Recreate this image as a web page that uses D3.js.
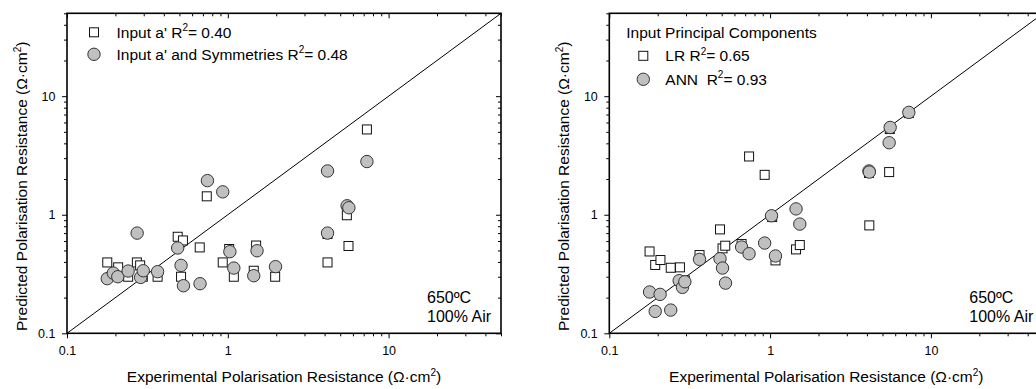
<!DOCTYPE html>
<html lang="en">
<head>
  <meta charset="utf-8">
  <title>Polarisation Resistance</title>
  <script type="text/javascript" src="https://cdn.jsdelivr.net/npm/d3@7/dist/d3.min.js"></script>
  <style>
    body { margin: 0; background: #fff; }
    svg { display: block; font-family: "Liberation Sans", Arial, sans-serif; }
    text { white-space: pre; }
  </style>
</head>
<body>
<script>
  // left panel : input a'
  const expA  = [0.178, 0.208, 0.24, 0.272, 0.285, 0.296, 0.366, 0.488, 0.526, 0.512, 0.669, 0.74, 0.93, 1.02, 1.09, 1.50, 1.45, 1.97, 4.17, 4.17, 5.5, 5.63, 7.33];
  const predA = [0.396, 0.36, 0.30, 0.396, 0.374, 0.30, 0.30, 0.652, 0.607, 0.30, 0.53, 1.43, 0.396, 0.514, 0.30, 0.55, 0.337, 0.30, 0.688, 0.396, 0.99, 0.545, 5.24];
  // left panel : input a' and symmetries
  const expAS  = [0.178, 0.194, 0.207, 0.24, 0.273, 0.287, 0.298, 0.366, 0.488, 0.512, 0.53, 0.672, 0.747, 0.93, 1.03, 1.09, 1.52, 1.45, 1.98, 4.17, 4.17, 5.52, 5.66, 7.33];
  const predAS = [0.289, 0.322, 0.30, 0.335, 0.70, 0.296, 0.337, 0.331, 0.524, 0.374, 0.252, 0.262, 1.94, 1.56, 0.488, 0.355, 0.497, 0.306, 0.365, 2.34, 0.70, 1.19, 1.145, 2.81];
  // right panel : principal components, LR
  const expLR  = [0.178, 0.193, 0.208, 0.241, 0.275, 0.295, 0.364, 0.488, 0.506, 0.526, 0.665, 0.74, 0.925, 1.03, 1.08, 1.45, 1.53, 4.12, 4.14, 5.55, 5.5, 7.29];
  const predLR = [0.49, 0.377, 0.415, 0.357, 0.36, 0.279, 0.457, 0.752, 0.52, 0.548, 0.566, 3.10, 2.17, 0.956, 0.412, 0.51, 0.555, 2.25, 0.813, 5.28, 2.29, 7.2];
  // right panel : principal components, ANN
  const expANN  = [0.178, 0.193, 0.207, 0.241, 0.272, 0.285, 0.295, 0.364, 0.488, 0.506, 0.528, 0.665, 0.74, 0.925, 1.02, 1.08, 1.45, 1.53, 4.12, 4.14, 5.5, 5.58, 7.29];
  const predANN = [0.223, 0.153, 0.213, 0.157, 0.278, 0.244, 0.272, 0.42, 0.426, 0.355, 0.265, 0.534, 0.469, 0.577, 0.98, 0.449, 1.12, 0.834, 2.34, 2.29, 4.05, 5.45, 7.3];

  const axisRange = [0.1, 50];
  const majorTicks = [0.1, 1, 10];
  const minorTicks = [0.2, 0.3, 0.4, 0.5, 0.6, 0.7, 0.8, 0.9, 2, 3, 4, 5, 6, 7, 8, 9, 20, 30, 40, 50];
  const tickLabels = ["0.1", "1", "10"];

  let w = 1036;
  let h = 389;
  let fs = 15.5;

  let svg = d3.select("body")
    .append("svg")
    .attr("width", w)
    .attr("height", h);

  function zip(xs, ys) {
    return xs.map(function(x, i) { return [x, ys[i]]; });
  }

  // text with a superscript 2 after "R"
  function r2Text(sel, before, after) {
    sel.append("tspan").text(before + "R");
    sel.append("tspan").attr("dy", -6.5).attr("font-size", 10).text("2");
    sel.append("tspan").attr("dy", 6.5).text(after);
  }

  function drawPanel(left, legendTitle, squares, circles, labels) {
    let pw = 434, ph = 320, top = 13.3;
    let g = svg.append("g").attr("transform", "translate(" + left + "," + top + ")");

    let xScale = d3.scaleLog().domain(axisRange).range([0, pw]);
    let yScale = d3.scaleLog().domain(axisRange).range([ph, 0]);

    // ticks: left/bottom outwards, top/right inwards
    function addAxis(axisFn, scale, tf, vals, size, pad) {
      let a = axisFn(scale).tickValues(vals).tickSizeInner(size).tickSizeOuter(0);
      if (pad) a.tickFormat(function(d, i) { return tickLabels[i]; }).tickPadding(pad);
      else a.tickFormat("");
      let ax = g.append("g").attr("transform", tf).call(a);
      ax.select(".domain").remove();
      ax.selectAll("line").attr("stroke", "#000").attr("stroke-width", 1);
      ax.selectAll("text").attr("font-size", 12.5).attr("fill", "#000")
        .attr("font-family", "'Liberation Sans', Arial, sans-serif");
      return ax;
    }
    addAxis(d3.axisBottom, xScale, "translate(0," + ph + ")", majorTicks, 5, 7.7);
    addAxis(d3.axisBottom, xScale, "translate(0," + ph + ")", minorTicks, 3, 0);
    addAxis(d3.axisLeft, yScale, "translate(0,0)", majorTicks, 5, 6.5);
    addAxis(d3.axisLeft, yScale, "translate(0,0)", minorTicks, 3, 0);
    addAxis(d3.axisTop, xScale, "translate(0,0)", majorTicks, -5, 0);
    addAxis(d3.axisTop, xScale, "translate(0,0)", minorTicks, -3, 0);
    addAxis(d3.axisRight, yScale, "translate(" + pw + ",0)", majorTicks, -5, 0);
    addAxis(d3.axisRight, yScale, "translate(" + pw + ",0)", minorTicks, -3, 0);

    g.append("rect")
      .attr("width", pw).attr("height", ph)
      .attr("fill", "none").attr("stroke", "#000").attr("stroke-width", 1.6);

    // y = x line
    g.append("line")
      .attr("x1", xScale(axisRange[0])).attr("y1", yScale(axisRange[0]))
      .attr("x2", xScale(axisRange[1])).attr("y2", yScale(axisRange[1]))
      .attr("stroke", "#000").attr("stroke-width", 1);

    g.selectAll("rect.sq")
      .data(squares)
      .enter()
      .append("rect")
      .attr("class", "sq")
      .attr("x", function(d) { return xScale(d[0]) - 4.5; })
      .attr("y", function(d) { return yScale(d[1]) - 4.5; })
      .attr("width", 9).attr("height", 9)
      .attr("fill", "#fff").attr("stroke", "#111").attr("stroke-width", 1);

    g.selectAll("circle.pt")
      .data(circles)
      .enter()
      .append("circle")
      .attr("class", "pt")
      .attr("cx", function(d) { return xScale(d[0]); })
      .attr("cy", function(d) { return yScale(d[1]); })
      .attr("r", 6.2)
      .attr("fill", "#c0c0c0").attr("stroke", "#333").attr("stroke-width", 1);

    // legend
    let ly = 24.5;
    let mx = legendTitle ? 34 : 27;
    let tx = legendTitle ? 56 : 49.5;
    let step = legendTitle ? 23.5 : 22;
    if (legendTitle) {
      g.append("text").attr("x", 17).attr("y", ly).attr("font-size", fs).text(legendTitle);
      ly += step;
    }
    g.append("rect")
      .attr("x", mx - 4.5).attr("y", ly - 10).attr("width", 9).attr("height", 9)
      .attr("fill", "#fff").attr("stroke", "#111");
    r2Text(g.append("text").attr("x", tx).attr("y", ly).attr("font-size", fs), labels[0], labels[1]);
    ly += step;
    g.append("circle")
      .attr("cx", mx).attr("cy", ly - 5.5).attr("r", 6.2)
      .attr("fill", "#c0c0c0").attr("stroke", "#333");
    r2Text(g.append("text").attr("x", tx).attr("y", ly).attr("font-size", fs), labels[2], labels[3]);

    // conditions
    g.append("text").attr("x", 360).attr("y", 290).attr("font-size", 16).text("650ºC");
    g.append("text").attr("x", 360).attr("y", 309).attr("font-size", 16).text("100% Air");

    // axis titles
    let xt = g.append("text")
      .attr("x", pw / 2).attr("y", 369)
      .attr("text-anchor", "middle").attr("font-size", fs);
    xt.append("tspan").text("Experimental Polarisation Resistance (\u03A9\u00B7cm");
    xt.append("tspan").attr("dy", -6.5).attr("font-size", 10).text("2");
    xt.append("tspan").attr("dy", 6.5).text(")");

    let yt = g.append("text")
      .attr("transform", "translate(-40," + 173 + ") rotate(-90)")
      .attr("text-anchor", "middle").attr("font-size", fs);
    yt.append("tspan").text("Predicted Polarisation Resistance (\u03A9\u00B7cm");
    yt.append("tspan").attr("dy", -6.5).attr("font-size", 10).text("2");
    yt.append("tspan").attr("dy", 6.5).text(")");
  }

  drawPanel(67, null, zip(expA, predA), zip(expAS, predAS),
    ["Input a' ", "= 0.40", "Input a' and Symmetries ", "= 0.48"]);
  drawPanel(609.3, "Input Principal Components", zip(expLR, predLR), zip(expANN, predANN),
    ["LR ", "= 0.65", "ANN  ", "= 0.93"]);
</script>
</body>
</html>
